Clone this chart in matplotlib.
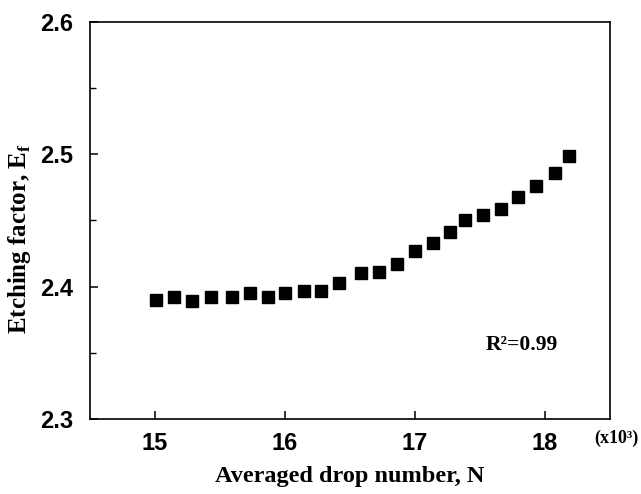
import numpy as np
import matplotlib
matplotlib.use("Agg")
import matplotlib.pyplot as plt
from matplotlib.ticker import MultipleLocator

# averaged drop number (x10^3) and etching factor
drop_number = [15.005, 15.146, 15.286, 15.427, 15.593, 15.729, 15.867, 16.003,
               16.144, 16.279, 16.418, 16.583, 16.724, 16.860, 17.001, 17.136,
               17.269, 17.387, 17.520, 17.658, 17.794, 17.934, 18.075, 18.183]
etching_factor = [2.390, 2.392, 2.389, 2.392, 2.392, 2.395, 2.392, 2.395,
                  2.397, 2.397, 2.403, 2.410, 2.411, 2.417, 2.427, 2.433,
                  2.441, 2.450, 2.454, 2.459, 2.468, 2.476, 2.486, 2.499]
x_ticks = [15, 16, 17, 18]
y_ticks = [2.3, 2.4, 2.5, 2.6]

serif = 'Liberation Serif'
sans = 'Liberation Sans'
plt.rcParams['mathtext.fontset'] = 'custom'
plt.rcParams['mathtext.rm'] = 'Liberation Serif:bold'

fig = plt.figure(figsize=(6.41, 4.94), dpi=100)
ax = fig.add_axes([0.1404, 0.1518, 0.8112, 0.8037])

ax.plot(drop_number, etching_factor, 's', color='black', markersize=8.5)

ax.set_xlim(14.5, 18.5)
ax.set_ylim(2.3, 2.6)
ax.set_xticks(x_ticks)
ax.set_yticks(y_ticks)
ax.set_xticklabels([str(v) for v in x_ticks])
ax.set_yticklabels(['%.1f' % v for v in y_ticks])
ax.yaxis.set_minor_locator(MultipleLocator(0.05))

for s in ax.spines.values():
    s.set_linewidth(1.2)
ax.tick_params(axis='both', which='major', direction='in', length=6, width=1.1)
ax.tick_params(axis='y', which='minor', direction='in', length=4.5, width=1.0)
ax.tick_params(axis='y', pad=12)
ax.tick_params(axis='x', pad=9)
for lab in ax.get_xticklabels() + ax.get_yticklabels():
    lab.set_fontfamily(sans)
    lab.set_fontweight('bold')
    lab.set_fontsize(17)

ax.set_xlabel('Averaged drop number, N', fontfamily=serif, fontweight='bold',
              fontsize=17.5, labelpad=8)
ax.set_ylabel(r'Etching factor, E$_{\mathrm{f}}$', fontfamily=serif,
              fontweight='bold', fontsize=18)
ax.yaxis.set_label_coords(-0.11, 0.455)

ax.text(17.82, 2.356, 'R²=0.99', fontfamily=serif, fontweight='bold',
        fontsize=15.5, ha='center', va='center')
fig.text(616 / 641, 1 - 438 / 494, '(x10³)', fontfamily=serif,
         fontweight='bold', fontsize=13, ha='center', va='center')

fig.savefig('out.png', dpi=100)
